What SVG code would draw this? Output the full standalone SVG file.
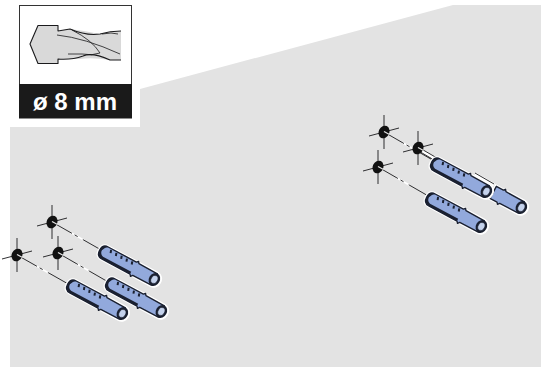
<svg xmlns="http://www.w3.org/2000/svg" width="543" height="367" viewBox="0 0 543 367">
<style>
.ln{fill:none;stroke:#1a1a1c;stroke-width:.9}
.dash{stroke-dasharray:23 3 3.500 6 60}
.gap{fill:none;stroke:#fff;stroke-width:1.600;stroke-dasharray:0 21 16 100}
.hair{fill:none;stroke:#1a1a1c;stroke-width:.9}
.hole{fill:#111}
.out{fill:#fff}
.body{fill:#92a9dc;stroke:#1a2030;stroke-width:1.400;stroke-linejoin:round}
.drk{fill:none;stroke:#1a2030;stroke-width:2}
.rim{fill:#1a2030}
.in{fill:#c4d2ec;stroke:#1a2030;stroke-width:.6}
.bitfill{fill:#d9d9d9}
.bit{fill:none;stroke:#1a1a1c;stroke-width:1.100;stroke-linejoin:round}
.flute{fill:none;stroke:#1a1a1c;stroke-width:.8}
</style>
<defs>
<g id="mark">
<path class="hair" d="M-15,4L15,-4M0,-17L0,17"/>
<ellipse class="hole" rx="5.300" ry="6.500" transform="rotate(25)"/>
<path d="M0,-.5L5.500,2.500" stroke="#e6e6e6" stroke-width="1.200" fill="none"/>
</g>
<g id="tip-end">
<ellipse class="rim" cx="56" cy="0" rx="5.500" ry="6.800"/>
<ellipse class="in" cx="56" cy="0" rx="3.300" ry="4.300"/>
</g>
<g id="dowel">
<path class="out" d="M0,-8.500 Q-8,-8.500 -8,0 Q-8,8.500 0,8.500 L34,8.500 L56,8.500 A7.500,8.500 0 0 0 56,-8.500 L34,-8.500 Z"/>
<path class="body" d="M0,-6.800 Q-6,-6.800 -6,0 Q-6,6.800 0,6.800 L32,6.800 L33.500,8.500 L35,6.600 L56,6.400 L56,-6.400 L35,-6.600 L33.500,-8.500 L32,-6.800 Z"/>
<path d="M0,-6.800 Q-6,-6.800 -6,0 Q-6,6.800 0,6.800 L32,6.800 L32,4.200 L0,4.200 Q-4,3 -4,-1 Q-3,-5 0,-6.800 Z" fill="#1a2030"/>
<path class="drk" d="M4,-5.500L5,-2.500M10,-5.500L11,-2.500M16,-5.500L17,-2.500M22,-5.500L23,-2.500M28,-5.500L29,-2.500"/>
<use href="#tip-end"/>
</g>
<g id="dowel-tail">
<path class="out" d="M22,-8.500 L56,-8.500 A7.500,8.500 0 0 1 56,8.500 L22,8.500 Z"/>
<path class="body" d="M24,-6.800 L32,-6.800 L33.500,-8.500 L35,-6.600 L56,-6.400 L56,6.400 L35,6.600 L33.500,8.500 L32,6.800 L24,6.800 Z"/>
<use href="#tip-end"/>
</g>
</defs>
<path id="wall" fill="#e3e3e3" d="M10,127 L140,127 L140,89 L453,5 L541,5 L541,367 L10,367 Z"/>
<g id="drill-icon">
<rect x="19.500" y="5.500" width="112" height="112" fill="#fff" stroke="#333" stroke-width="1"/>
<rect x="19" y="84" width="113" height="34.500" fill="#1a1a1a"/>
<path class="bitfill" d="M30,44 L38,25.500 L58,25.500 L58,31 L70,29 Q86,31 100,34 L121,31 L121,60 L110,60 Q92,57 80,59 L58,59 L58,63.500 L38,63.500 Z"/>
<path class="bit" d="M121,31 Q110,31 100,34 Q86,36 70,29 L58,31 L58,25.500 L38,25.500 L30,44 L38,63.500 L58,63.500 L58,59 Q72,60 83,56 Q92,52 110,60 L121,60"/>
<path class="flute" d="M57,35 Q85,38 120,54M68,54 L82,54 Q92,56 100,53 Q92,40 72,30M102,34 Q112,32 118,34"/>
<text x="75" y="110" text-anchor="middle" font-family="'Liberation Sans',Arial,sans-serif" font-size="24" font-weight="700" fill="#fff">ø 8 mm</text>
</g>
<g id="connectors">
<path class="gap" d="M52,222L103,251"/><path class="ln dash" d="M52,222L103,251"/>
<path class="gap" d="M17,255L70,285"/><path class="ln dash" d="M17,255L70,285"/>
<path class="gap" d="M58,253L110,283"/><path class="ln dash" d="M58,253L110,283"/>
<path class="gap" d="M384,132L436,162"/><path class="ln dash" d="M384,132L436,162"/>
<path class="gap" d="M378,167L430,197"/><path class="ln dash" d="M378,167L430,197"/>
<path stroke="#fff" stroke-width="3.500" fill="none" d="M420,150L436,159M475,174L494,185"/>
<path class="ln" d="M418,147L437,158M417,150L434,160M475,173L494,184"/>
</g>
<g id="hole-1"><use href="#mark" x="52" y="222"/></g>
<g id="hole-2"><use href="#mark" x="17" y="255"/></g>
<g id="hole-3"><use href="#mark" x="58" y="253"/></g>
<g id="hole-4"><use href="#mark" x="384" y="132"/></g>
<g id="hole-5"><use href="#mark" x="418" y="148"/></g>
<g id="hole-6"><use href="#mark" x="378" y="167"/></g>
<g id="dowel-1"><use href="#dowel" transform="translate(105,253) rotate(28.200)"/></g>
<g id="dowel-2"><use href="#dowel" transform="translate(73,287) rotate(28.200)"/></g>
<g id="dowel-3"><use href="#dowel" transform="translate(112,285) rotate(28.200)"/></g>
<g id="dowel-4"><use href="#dowel-tail" transform="translate(472,181) rotate(28.200)"/></g>
<g id="dowel-5"><use href="#dowel" transform="translate(437,165) rotate(28.200)"/></g>
<g id="dowel-6"><use href="#dowel" transform="translate(432,200) rotate(28.200)"/></g>
</svg>
